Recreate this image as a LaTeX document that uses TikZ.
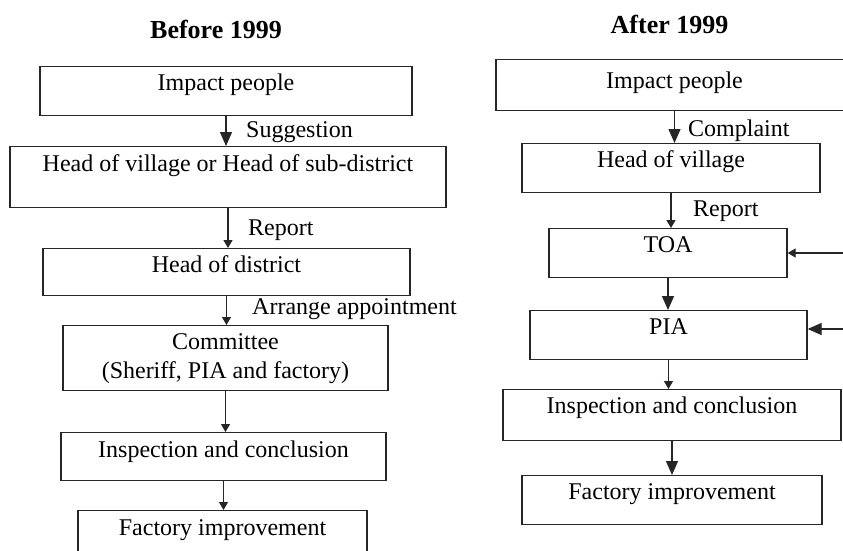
\documentclass[tikz,border=0pt]{standalone}
\usepackage{fontspec}
\setmainfont{Liberation Serif}
\usetikzlibrary{arrows.meta}
\tikzset{
  stagebox/.style={draw=black!85, fill=white, line width=1.3pt, inner xsep=0pt, inner ysep=0pt, anchor=north, font=\fontsize{24}{29}\selectfont},
  oneline/.style={text height=24pt, text depth=25pt},
  flowlabel/.style={anchor=base west, inner sep=0pt, font=\fontsize{24}{29}\selectfont},
  headline/.style={anchor=base, inner sep=0pt, font=\fontsize{26}{30}\selectfont\bfseries},
  bigtip/.style={draw=black!85, line width=1.3pt, -{Triangle[length=14pt,width=12pt]}},
  smalltip/.style={draw=black!85, line width=1.3pt, -{Triangle[length=8pt,width=9pt]}},
}
\begin{document}
\begin{tikzpicture}[x=1pt,y=-1pt]
        \clip (0,0) rectangle (843,551);
        \fill[white] (0,0) rectangle (843,551);

        %Before 1999
        \node[headline] (title1) at (216,39) {Before 1999};
        \node[flowlabel] (sug) at (246,137) {Suggestion};
        \node[flowlabel] (rep1) at (248,235) {Report};
        \node[flowlabel] (arr) at (252,314) {Arrange appointment};

        \node[stagebox,oneline,minimum width=372pt] (imp1) at (226,66) {Impact people};
        \node[stagebox,text height=25pt,text depth=36pt,minimum width=436pt] (hv1) at (228,146) {Head of village or Head of sub-district};
        \node[stagebox,text height=24pt,text depth=23pt,minimum width=367pt] (hd1) at (226.5,248) {Head of district};
        \node[stagebox,align=center,minimum width=325pt,minimum height=65pt] (com1) at (225.5,325) {Committee\\(Sheriff, PIA and factory)};
        \node[stagebox,text height=25pt,text depth=23pt,minimum width=325pt] (ins1) at (223.5,432) {Inspection and conclusion};
        \node[stagebox,text height=25pt,text depth=30pt,minimum width=289pt] (fac1) at (222.5,510) {Factory improvement};

        \draw[bigtip] (imp1.south) -- (imp1.south |- hv1.north);
        \draw[smalltip] (hv1.south) -- (hv1.south |- hd1.north);
        \draw[smalltip] (hd1.south) -- (hd1.south |- com1.north);
        \draw[smalltip] (com1.south) -- (com1.south |- ins1.north);
        \draw[smalltip] (ins1.south) -- (ins1.south |- fac1.north);

        %After 1999
        \node[headline] (title2) at (669.5,34) {After 1999};
        \node[flowlabel] (cmp) at (688,136) {Complaint};
        \node[flowlabel] (rep2) at (693,216) {Report};

        \node[stagebox,text height=29pt,text depth=22pt,minimum width=357pt] (imp2) at (674.5,59) {Impact people};
        \node[stagebox,oneline,minimum width=298pt] (hv2) at (671,143) {Head of village};
        \node[stagebox,oneline,minimum width=238pt] (toa2) at (668,228) {TOA};
        \node[stagebox,oneline,minimum width=277pt] (pia2) at (668.5,310) {PIA};
        \node[stagebox,text height=24pt,text depth=27pt,minimum width=338pt] (ins2) at (672,389) {Inspection and conclusion};
        \node[stagebox,oneline,minimum width=300pt] (fac2) at (672,475) {Factory improvement};

        \coordinate (toaIn) at (843,253);
        \coordinate (piaIn) at (843,329);

        \draw[bigtip] (imp2.south) -- (imp2.south |- hv2.north);
        \draw[smalltip] (hv2.south) -- (hv2.south |- toa2.north);
        \draw[bigtip] (toa2.south) -- (toa2.south |- pia2.north);
        \draw[smalltip] (pia2.south) -- (pia2.south |- ins2.north);
        \draw[bigtip] (ins2.south) -- (ins2.south |- fac2.north);
        \draw[smalltip] (toaIn) -- (toaIn -| toa2.east);
        \draw[bigtip] (piaIn) -- (piaIn -| pia2.east);
    \end{tikzpicture}
\end{document}
